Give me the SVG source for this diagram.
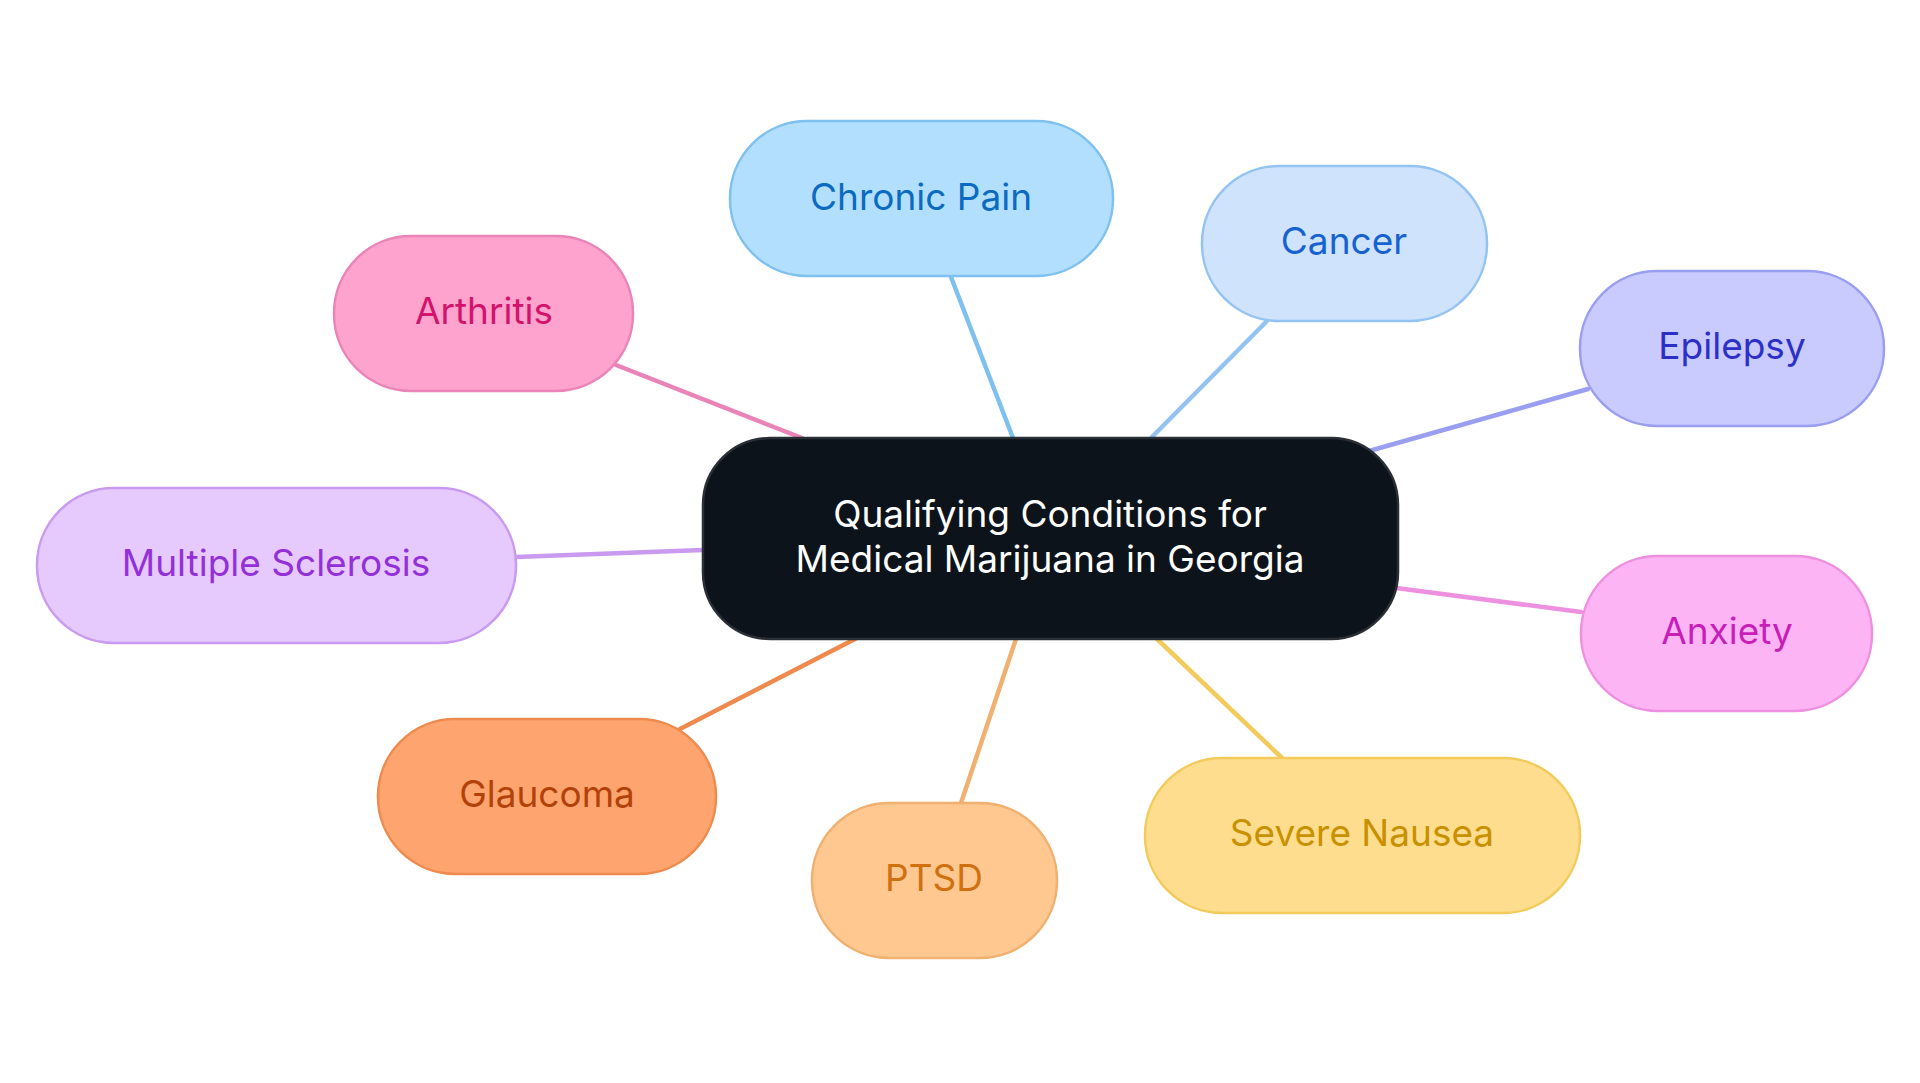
<svg xmlns="http://www.w3.org/2000/svg" width="1920" height="1083" viewBox="0 0 1920 1083">
<style>
text{font-family:Inter,"Noto Sans","Liberation Sans",sans-serif;font-size:37px;text-anchor:middle;dominant-baseline:central}
.n rect{stroke-width:2.5}
#edges line{stroke-width:4.5;stroke-linecap:round}
</style>
<rect width="1920" height="1083" fill="#fff"/>
<g id="edges">
<line x1="951" y1="277" x2="1013" y2="438" stroke="#7ec0f0"/>
<line x1="1267" y1="321" x2="1151" y2="438" stroke="#93c3f3"/>
<line x1="1588" y1="389" x2="1369" y2="451" stroke="#9a9ef0"/>
<line x1="616" y1="365" x2="802" y2="438" stroke="#ea84b8"/>
<line x1="516" y1="557" x2="703" y2="550" stroke="#c99af0"/>
<line x1="1581" y1="612" x2="1396" y2="588" stroke="#ee90e0"/>
<line x1="680" y1="729" x2="855" y2="639" stroke="#ee8a4e"/>
<line x1="961" y1="803" x2="1016" y2="639" stroke="#f0b070"/>
<line x1="1282" y1="758" x2="1157" y2="639" stroke="#f3cb5c"/>
</g>
<g id="center" class="n"><rect x="703" y="438" width="695" height="201" rx="67" fill="#0d131b" stroke="#2a2f36"/><text x="1050" y="513" fill="#fff">Qualifying Conditions for</text><text x="1050" y="558" fill="#fff">Medical Marijuana in Georgia</text></g>
<g id="chronic" class="n"><rect x="730" y="121" width="383" height="155" rx="77" fill="#b3dffe" stroke="#7ec0f0"/><text x="921" y="196" fill="#0a6bc0">Chronic Pain</text></g>
<g id="cancer" class="n"><rect x="1202" y="166" width="285" height="155" rx="77" fill="#cfe3fd" stroke="#93c3f3"/><text x="1344" y="240" fill="#1662d0">Cancer</text></g>
<g id="epilepsy" class="n"><rect x="1580" y="271" width="304" height="155" rx="77" fill="#c9cafd" stroke="#9a9ef0"/><text x="1732" y="345" fill="#2c30c8">Epilepsy</text></g>
<g id="arthritis" class="n"><rect x="334" y="236" width="299" height="155" rx="77" fill="#fda3cd" stroke="#ea84b8"/><text x="484" y="310" fill="#d3136b">Arthritis</text></g>
<g id="ms" class="n"><rect x="37" y="488" width="479" height="155" rx="77" fill="#e6cafd" stroke="#c99af0"/><text x="276" y="562" fill="#9330d8">Multiple Sclerosis</text></g>
<g id="anxiety" class="n"><rect x="1581" y="556" width="291" height="155" rx="77" fill="#fdb4f5" stroke="#ee90e0"/><text x="1727" y="630" fill="#c81eb8">Anxiety</text></g>
<g id="glaucoma" class="n"><rect x="378" y="719" width="338" height="155" rx="77" fill="#fea56f" stroke="#ee8a4e"/><text x="547" y="793" fill="#b3420a">Glaucoma</text></g>
<g id="ptsd" class="n"><rect x="812" y="803" width="245" height="155" rx="77" fill="#fec890" stroke="#f0b070"/><text x="934" y="877" fill="#d0700f">PTSD</text></g>
<g id="nausea" class="n"><rect x="1145" y="758" width="435" height="155" rx="77" fill="#fede8e" stroke="#f3cb5c"/><text x="1362" y="832" fill="#c99000">Severe Nausea</text></g>
</svg>
